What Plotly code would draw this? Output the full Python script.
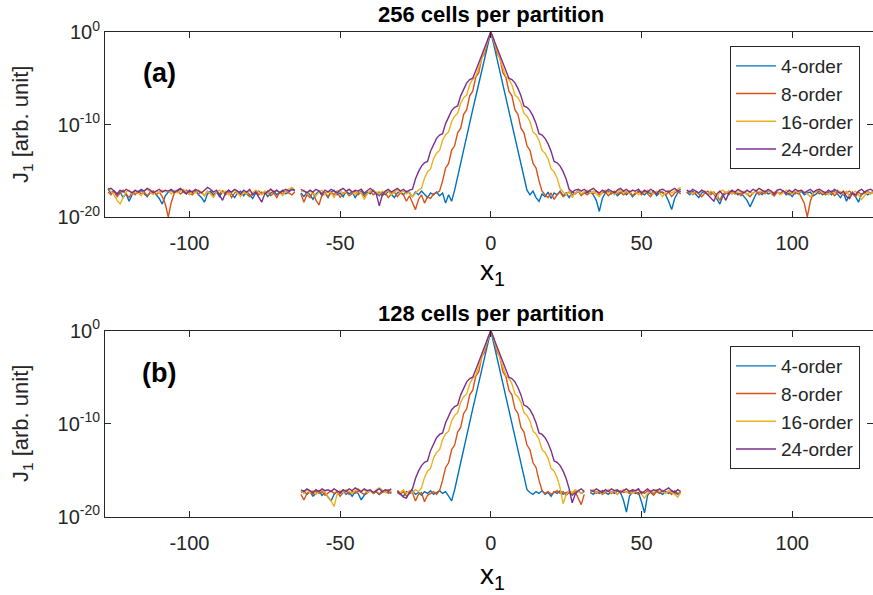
import plotly.graph_objects as go

W, H = 873, 595
AX = "#262626"

# ---------------- data (log10 of J1) ----------------
series_names = ["4-order", "8-order", "16-order", "24-order"]
colors = ["#0072BD", "#D95319", "#EDB120", "#7E2F8E"]
x_ticks = [-100, -50, 0, 50, 100]
x_tick_labels = ["-100", "-50", "0", "50", "100"]
y_ticks = [1e-20, 1e-10, 1e0]
y_tick_labels = ["10<sup>-20</sup>", "10<sup>-10</sup>", "10<sup>0</sup>"]
titles = ["256 cells per partition", "128 cells per partition"]

# one-sided peak profiles, x1 = 0, 1, 2, ...
core_4 = [0.0, -1.4, -2.8, -4.2, -5.6, -7.0, -8.4, -9.8, -11.2, -12.6, -14.1, -15.6, -17.1]
core_8 = [0.0, -0.8, -2.3, -2.8, -4.4, -4.9, -6.4, -6.9, -8.4, -8.9, -10.4, -10.9, -12.3,
          -12.8, -14.2, -14.7, -16.1, -17.2]
core_16 = [0.0, -1.0, -2.0, -2.9, -3.8, -4.8, -5.1, -5.7, -6.8, -7.1, -7.7, -8.8, -9.1,
           -9.7, -10.8, -11.1, -11.7, -12.8, -13.1, -13.7, -14.8, -15.1, -15.8, -16.9]
core_24 = [0.0, -0.8, -1.6, -2.5, -3.3, -4.2, -5.0, -5.15, -5.5, -6.1, -6.9, -8.0, -8.15,
           -8.5, -9.1, -9.9, -11.0, -11.15, -11.5, -12.1, -12.9, -14.0, -14.15, -14.5,
           -15.1, -15.9, -17.0]

# ---- panel (a): noise floor, left part (x1 rising to the peak) and right part ----
a4_left = [-17.0, -17.4, -17.2, -17.6, -17.3, -17.9, -17.5, -18.3, -17.6, -17.2,
           -17.4, -17.1, -17.5, -17.8, -17.3, -17.2, -17.6, -18.0, -18.6, -17.7,
           -17.3, -17.1, -17.4, -17.2, -17.0, -17.3, -17.5, -17.2, -17.4, -17.1,
           -17.6, -17.9, -18.4, -17.5, -17.2, -17.6, -17.3, -17.8, -17.2, -17.4,
           -17.1, -17.5, -17.9, -17.4, -17.2, -17.7, -17.3, -17.6, -18.0, -17.4,
           -17.2, -17.5, -17.3, -17.8, -17.4, -17.2, -17.6, -17.3, -17.1, -17.5,
           -17.3, -17.0, -17.2, None, -17.4, -17.8, -17.3, -17.6, -18.1, -17.5,
           -17.2, -17.7, -17.4, -17.9, -17.3, -17.1, -17.6, -17.4, -17.8, -17.2,
           -17.5, -17.3, -17.9, -17.4, -17.2, -17.6, -17.3, -17.5, -17.1, -17.4,
           -17.7, -17.3, -17.6, -17.2, -17.5, -17.9, -17.4, -17.3, -17.6, -17.2,
           -17.4, -17.8, -17.3, -17.6, -17.2, -17.5, -17.9, -17.4, -17.6, -17.3,
           -17.7, -17.4, -18.5, -17.6, -18.3]
a4_right = [-17.6, -17.2, -17.9, -18.3, -17.5, -17.8, -17.3, -18.0, -17.4, -17.6,
            -17.2, -17.7, -17.4, -17.9, -17.3, -17.5, -17.2, -17.6, -17.3, -17.4,
            -17.2, -17.6, -18.2, -19.4, -18.0, -17.4, -17.2, -17.5, -17.3, -17.7,
            -17.4, -17.2, -17.6, -17.3, -17.8, -17.5, -17.2, -17.4, -17.6, -17.3,
            -17.5, -17.2, -17.7, -17.4, -17.3, -17.6, -18.3, -19.2, -18.0, -17.4,
            -17.2, None, -17.3, -17.6, -17.2, -17.5, -17.9, -17.4, -17.2, -17.6,
            -17.3, -17.5, -18.0, -18.6, -17.7, -17.4, -17.2, -17.5, -17.3, -17.6,
            -17.4, -17.8, -18.2, -18.9, -18.1, -17.5, -17.3, -17.6, -17.2, -17.5,
            -17.4, -17.7, -17.3, -17.5, -17.2, -17.6, -17.4, -17.8, -17.3, -17.5,
            -17.2, -17.6, -17.4, -17.3, -17.7, -17.5, -17.2, -17.6, -17.4, -17.3,
            -17.6, -17.2, -17.5, -17.9, -17.4, -18.3, -17.6, -17.3, -17.8, -18.4,
            -17.5, -17.3, -17.6, -17.4, -17.2]
a8_left = [-17.3, -17.6, -17.2, -17.8, -17.4, -17.1, -17.5, -17.9, -17.3, -17.6,
           -17.2, -17.5, -17.3, -17.7, -17.4, -17.2, -17.6, -17.3, -17.8, -18.6,
           -20.0, -18.4, -17.4, -17.2, -17.5, -17.3, -17.1, -17.4, -17.6, -17.2,
           -17.5, -17.3, -17.7, -17.2, -17.4, -17.8, -17.3, -17.5, -17.2, -17.6,
           -17.3, -17.9, -17.4, -17.2, -17.6, -17.3, -17.5, -17.8, -17.4, -17.2,
           -17.6, -17.3, -17.5, -17.2, -17.7, -17.4, -17.9, -17.3, -17.5, -17.2,
           -17.4, -17.6, -17.3, None, -17.5, -18.4, -17.6, -17.9, -17.3, -18.2,
           -18.7, -17.6, -17.4, -17.8, -17.3, -17.6, -17.2, -17.9, -17.4, -17.3,
           -17.7, -17.4, -17.2, -17.6, -17.3, -17.8, -17.5, -17.2, -17.6, -17.4,
           -17.3, -17.7, -17.4, -17.9, -17.5, -17.3, -17.8, -17.4, -17.6, -18.3,
           -17.7, -18.4, -19.2, -18.1, -17.6, -18.5, -17.8, -18.0, -17.5, -17.4]
a8_right = [-17.6, -17.9, -17.4, -18.1, -17.6, -17.3, -17.8, -17.5, -17.3, -17.6,
            -17.4, -17.2, -17.7, -17.4, -17.6, -17.3, -17.5, -17.2, -17.6, -17.4,
            -17.3, -17.7, -17.4, -17.2, -17.5, -17.3, -17.6, -17.4, -17.2, -17.7,
            -17.4, -17.3, -17.6, -17.2, -17.5, -17.8, -17.3, -17.5, -17.2, -17.4,
            -17.6, -17.3, -17.8, -17.4, -17.2, -17.5, None, -17.4, -17.2, -17.6,
            -17.3, -17.5, -17.8, -17.4, -17.2, -17.6, -17.3, -17.7, -18.2, -17.5,
            -17.3, -17.6, -17.2, -17.5, -17.4, -17.7, -17.3, -17.5, -17.8, -17.4,
            -17.2, -17.6, -17.3, -17.5, -17.2, -17.4, -17.7, -17.3, -17.5, -17.2,
            -17.4, -17.6, -17.3, -17.5, -17.2, -17.8, -18.5, -20.0, -18.3, -17.4,
            -17.2, -17.5, -17.3, -17.6, -17.4, -17.2, -17.7, -17.4, -17.3, -17.6,
            -17.4, -17.2, -17.5, -17.8, -17.3, -17.6, -17.4, -17.2, -17.5, -17.3]
a16_left = [-16.9, -17.2, -17.6, -18.2, -18.6, -17.9, -17.3, -17.1, -17.5, -17.2,
            -17.4, -17.7, -17.2, -17.0, -17.3, -17.6, -17.2, -17.4, -17.1, -17.3,
            -17.2, -17.5, -17.1, -17.4, -17.2, -17.0, -17.3, -17.6, -17.2, -17.4,
            -17.1, -17.3, -17.7, -17.2, -17.5, -17.9, -17.3, -17.1, -17.4, -17.2,
            -17.6, -17.3, -17.1, -17.4, -17.8, -17.3, -17.5, -17.2, -17.4, -17.1,
            -17.3, -17.6, -17.2, -17.5, -17.0, -17.3, -17.1, -17.4, -17.7, -17.2,
            -17.0, -16.8, -17.1, None, -17.3, -17.1, -17.5, -17.2, -17.4, -17.7,
            -17.3, -17.1, -17.6, -17.2, -17.4, -17.9, -17.3, -17.1, -17.5, -17.2,
            -17.0, -17.3, -17.6, -17.2, -17.4, -18.1, -17.5, -17.2, -17.1, -17.3,
            -17.5, -17.2, -17.4, -17.1, -17.6, -17.3, -17.1, -17.4, -17.2, -17.5,
            -17.3, -17.8, -17.4, -17.1]
a16_right = [-17.3, -17.6, -17.2, -17.9, -17.4, -17.2, -17.5, -17.3, -17.1, -17.4,
             -17.2, -17.5, -17.8, -17.3, -17.1, -17.4, -17.2, -17.6, -17.3, -17.1,
             -17.4, -17.2, -17.5, -17.1, -17.3, -17.6, -17.2, -17.4, -17.1, -17.3,
             -17.5, -17.2, -17.4, -17.8, -17.3, -17.1, -17.4, -17.2, -17.0, -16.8,
             None, -17.1, -17.3, -17.5, -17.2, -17.4, -17.1, -17.3, -17.6, -17.2,
             -17.4, -17.9, -17.3, -17.1, -17.4, -17.2, -17.5, -17.3, -17.1, -17.4,
             -17.2, -17.6, -17.3, -17.5, -17.1, -17.3, -17.2, -17.4, -17.1, -17.5,
             -17.3, -17.2, -17.6, -17.4, -17.1, -17.3, -17.5, -17.2, -17.4, -17.1,
             -17.3, -17.5, -17.8, -17.4, -17.2, -17.1, -17.4, -17.3, -17.6, -17.2,
             -17.4, -17.1, -17.3, -17.5, -17.2, -17.8, -17.4, -17.2, -17.6, -18.1,
             -17.7, -17.3, -17.5, -17.2]
a24_left = [-17.0, -16.9, -17.2, -17.5, -17.1, -17.3, -17.0, -17.2, -17.4, -17.1,
            -17.3, -17.0, -17.2, -16.9, -17.1, -17.4, -17.2, -17.0, -17.3, -17.1,
            -17.2, -17.0, -17.3, -17.1, -16.9, -17.2, -17.5, -17.1, -17.3, -17.0,
            -17.2, -17.4, -17.1, -16.8, -17.0, -17.3, -17.1, -17.6, -18.2, -17.4,
            -17.1, -17.3, -17.0, -17.2, -17.5, -17.1, -17.3, -17.0, -17.6, -17.3,
            -17.9, -18.4, -17.5, -17.2, -17.0, -17.3, -17.1, -17.4, -17.2, -17.0,
            -17.2, -17.0, -17.1, None, -17.0, -17.2, -17.4, -17.1, -17.3, -17.0,
            -17.2, -17.5, -17.1, -17.3, -17.0, -17.2, -17.4, -17.1, -16.9, -17.2,
            -17.0, -17.3, -17.1, -17.2, -17.0, -17.4, -17.1, -16.9, -17.2, -17.5,
            -18.8, -17.6, -17.2, -17.0, -17.3, -17.1, -16.9, -17.2, -17.0, -17.3,
            -17.1]
a24_right = [-17.3, -17.1, -17.0, -17.2, -17.0, -17.3, -17.1, -16.9, -17.2, -17.4,
             -17.1, -17.3, -17.0, -17.2, -17.4, -17.1, -16.9, -17.2, -17.0, -17.3,
             -17.1, -17.2, -17.0, -17.4, -17.1, -17.3, -17.0, -17.2, -17.5, -17.1,
             -17.0, -17.2, -17.3, -17.1, -16.9, -17.2, -17.0, None, -17.1, -17.3,
             -17.0, -17.2, -17.4, -17.1, -17.3, -17.6, -17.9, -18.3, -17.5, -17.2,
             -17.6, -18.2, -17.4, -17.1, -17.3, -17.0, -17.2, -17.4, -17.1, -17.3,
             -17.0, -17.2, -16.9, -17.1, -17.3, -17.0, -17.2, -17.5, -17.1, -17.0,
             -17.2, -17.4, -17.1, -17.3, -17.0, -17.2, -17.1, -17.4, -17.2, -17.0,
             -17.3, -17.1, -17.0, -17.2, -17.4, -17.1, -17.3, -17.0, -17.2, -17.5,
             -17.2, -17.8, -18.0, -17.4, -17.6, -17.2, -17.0, -17.3, -17.1, -17.0,
             -17.2]

# ---- panel (b): noise floor ----
b4_left = [-17.4, -17.2, -17.6, -17.3, -17.8, -17.5, -17.2, -17.7, -17.4, -17.9,
           -18.3, -17.6, -17.3, -17.5, -17.2, -17.6, -17.4, -17.8, -17.3, -17.5,
           -18.2, -17.7, -17.4, -17.2, -17.5, -17.3, -17.6, -17.2, -17.4, -17.3,
           -17.5, None, -17.4, -17.6, -17.8, -17.3, -17.5, -17.2, -17.6, -17.4,
           -17.7, -17.3, -17.5, -17.2, -17.6, -17.4, -17.2, -17.5, -17.3, -17.8,
           -18.3]
b4_right = [-17.4, -17.6, -17.3, -17.5, -17.2, -17.6, -17.4, -17.8, -17.3, -17.5,
            -17.2, -17.6, -17.4, -17.3, -17.7, -17.4, -17.2, -17.5, -17.3, None,
            -17.4, -17.6, -17.3, -17.5, -17.2, -17.4, -17.6, -17.3, -17.5, -17.2,
            -17.4, -18.2, -19.5, -17.8, -17.3, -17.5, -17.4, -18.4, -19.6, -17.7,
            -17.3, -17.5, -17.2, -17.4, -17.6, -17.3, -17.5, -17.2, -17.4, -17.6,
            -17.4]
b8_left = [-17.6, -18.2, -17.5, -17.3, -17.6, -17.2, -17.5, -17.3, -17.7, -17.4,
           -17.2, -17.5, -17.3, -17.8, -17.4, -17.2, -17.6, -17.3, -17.5, -17.2,
           -17.4, -17.6, -17.3, -17.2, -17.5, -17.3, -17.6, -17.4, -17.2, -17.5,
           -17.3, None, -17.4, -17.6, -17.3, -17.8, -17.5, -17.4, -18.3, -17.6,
           -17.4, -18.4, -17.7, -17.5, -17.3, -17.6]
b8_right = [-17.5, -17.3, -17.6, -17.4, -17.2, -17.5, -17.3, -17.7, -17.4, -17.6,
            -17.3, -18.0, -18.7, -17.6, None, -17.4, -17.2, -17.5, -17.3, -17.6,
            -17.4, -17.2, -17.5, -17.3, -17.6, -17.2, -17.4, -17.3, -17.5, -17.2,
            -17.4, -17.6, -17.3, -17.5, -17.2, -17.4, -17.7, -17.3, -17.5, -17.2,
            -17.4, -17.3, -17.6, -17.2, -17.5, -17.4]
b16_left = [-17.2, -17.5, -17.1, -17.4, -17.2, -17.6, -17.3, -17.1, -17.4, -17.8,
            -18.3, -18.9, -17.6, -17.2, -17.4, -17.1, -17.3, -17.5, -17.2, -17.0,
            -17.3, -17.1, -17.4, -17.2, -17.5, -17.1, -16.9, -17.2, -17.4, -17.1,
            -17.3, None, -17.2, -17.4, -17.1, -17.5, -17.2, -17.4, -17.1, -17.3]
b16_right = [-18.6, -17.6, -17.2, -17.4, -17.1, -17.3, -17.5, -17.2, None, -17.3,
             -17.1, -17.4, -17.2, -17.5, -17.3, -17.1, -17.4, -17.2, -17.6, -17.3,
             -17.1, -17.4, -17.2, -17.5, -17.3, -17.1, -17.6, -18.0, -17.5, -17.2,
             -17.4, -17.1, -17.3, -17.2, -17.5, -17.2, -17.4, -17.6, -17.9, -17.4]
b24_left = [-17.1, -17.3, -17.0, -17.2, -17.4, -17.1, -17.3, -17.0, -17.2, -17.1,
            -17.3, -17.0, -17.2, -17.4, -17.1, -17.3, -17.0, -17.2, -16.9, -17.1,
            -17.3, -17.0, -17.2, -17.1, -17.4, -17.2, -17.0, -17.3, -17.1, -17.2,
            -17.0, None, -17.2, -17.5, -17.9, -18.0, -17.4]
b24_right = [-18.5, -17.6, -17.2, -17.0, -17.3, None, -17.1, -17.3, -17.0, -17.2,
             -17.4, -17.1, -17.3, -17.0, -17.2, -17.1, -17.4, -17.2, -17.0, -17.3,
             -17.1, -17.2, -17.0, -17.5, -17.2, -17.0, -17.3, -17.1, -17.2, -17.0,
             -17.3, -17.1, -16.9, -17.2, -17.4, -17.1, -17.3]

cores = [core_4, core_8, core_16, core_24]
panel_a = [(a4_left, a4_right), (a8_left, a8_right), (a16_left, a16_right), (a24_left, a24_right)]
panel_b = [(b4_left, b4_right), (b8_left, b8_right), (b16_left, b16_right), (b24_left, b24_right)]


def build(left, core, right):
    k = len(core) - 1
    xs = (list(range(-k - len(left), -k)) + list(range(-k, k + 1))
          + list(range(k + 1, k + 1 + len(right))))
    logs = left + core[::-1] + core[1:] + right
    ys = [None if v is None else 10.0 ** v for v in logs]
    return xs, ys


fig = go.Figure()
for p, (panel, xa, ya, lg) in enumerate([(panel_a, "x", "y", "legend"),
                                          (panel_b, "x2", "y2", "legend2")]):
    for i, (left, right) in enumerate(panel):
        xs, ys = build(left, cores[i], right)
        fig.add_trace(go.Scatter(
            x=xs, y=ys, mode="lines", name=series_names[i],
            line=dict(color=colors[i], width=1.4),
            xaxis=xa, yaxis=ya, legend=lg, legendgroup=f"{p}{i}",
        ))


def fx(px):
    return px / W


def fy(px):
    return 1 - px / H


FONT = "Liberation Sans, Arial, sans-serif"
axis_common = dict(showline=True, linecolor=AX, linewidth=1, mirror="ticks",
                   ticks="inside", ticklen=6, tickwidth=1, tickcolor=AX,
                   showgrid=False, zeroline=False, automargin=False,
                   tickfont=dict(family=FONT, size=20, color=AX))
xcommon = dict(domain=[fx(105), 1.0], range=[-128, 126.8], ticklabelstandoff=8,
               tickvals=x_ticks, ticktext=x_tick_labels, **axis_common)
ycommon = dict(type="log", range=[-20, 0], tickvals=y_ticks, ticktext=y_tick_labels,
               **axis_common)

legend_common = dict(xanchor="left", yanchor="top", bordercolor=AX, borderwidth=1,
                     bgcolor="white", font=dict(family=FONT, size=19, color=AX),
                     tracegroupgap=0, itemwidth=40)

annotations = []
for title, ty in zip(titles, [14, 313]):
    annotations.append(dict(text=f"<b>{title}</b>", x=fx(490.7), y=fy(ty), xref="paper",
                            yref="paper", showarrow=False, xanchor="center", yanchor="middle",
                            font=dict(family=FONT, size=22, color="black")))
for lab, ly in zip(["(a)", "(b)"], [73, 373]):
    annotations.append(dict(text=f"<b>{lab}</b>", x=fx(159), y=fy(ly), xref="paper",
                            yref="paper", showarrow=False, xanchor="center", yanchor="middle",
                            font=dict(family=FONT, size=27, color="black")))
for ly in [273, 576]:
    annotations.append(dict(text="x<sub>1</sub>", x=fx(492), y=fy(ly), xref="paper",
                            yref="paper", showarrow=False, xanchor="center", yanchor="middle",
                            font=dict(family=FONT, size=28, color="black")))
for ly in [125, 424]:
    annotations.append(dict(text="J<sub>1</sub> [arb. unit]", x=fx(22), y=fy(ly),
                            xref="paper", yref="paper", showarrow=False, textangle=-90,
                            xanchor="center", yanchor="middle",
                            font=dict(family=FONT, size=22, color=AX)))

fig.update_layout(
    width=W, height=H, margin=dict(l=0, r=0, t=0, b=0, autoexpand=False),
    paper_bgcolor="white", plot_bgcolor="white",
    font=dict(family=FONT, color=AX),
    xaxis=dict(anchor="y", **xcommon),
    yaxis=dict(anchor="x", domain=[fy(217), fy(32)], **ycommon),
    xaxis2=dict(anchor="y2", **xcommon),
    yaxis2=dict(anchor="x2", domain=[fy(516.7), fy(330.7)], **ycommon),
    legend=dict(x=fx(730), y=fy(46), **legend_common),
    legend2=dict(x=fx(730), y=fy(346), **legend_common),
    annotations=annotations,
    showlegend=True,
)

fig.write_html("out.html",
               config={"displayModeBar": False},
               post_script="document.body.style.margin='0px';"
                           "document.documentElement.style.overflow='hidden';")
